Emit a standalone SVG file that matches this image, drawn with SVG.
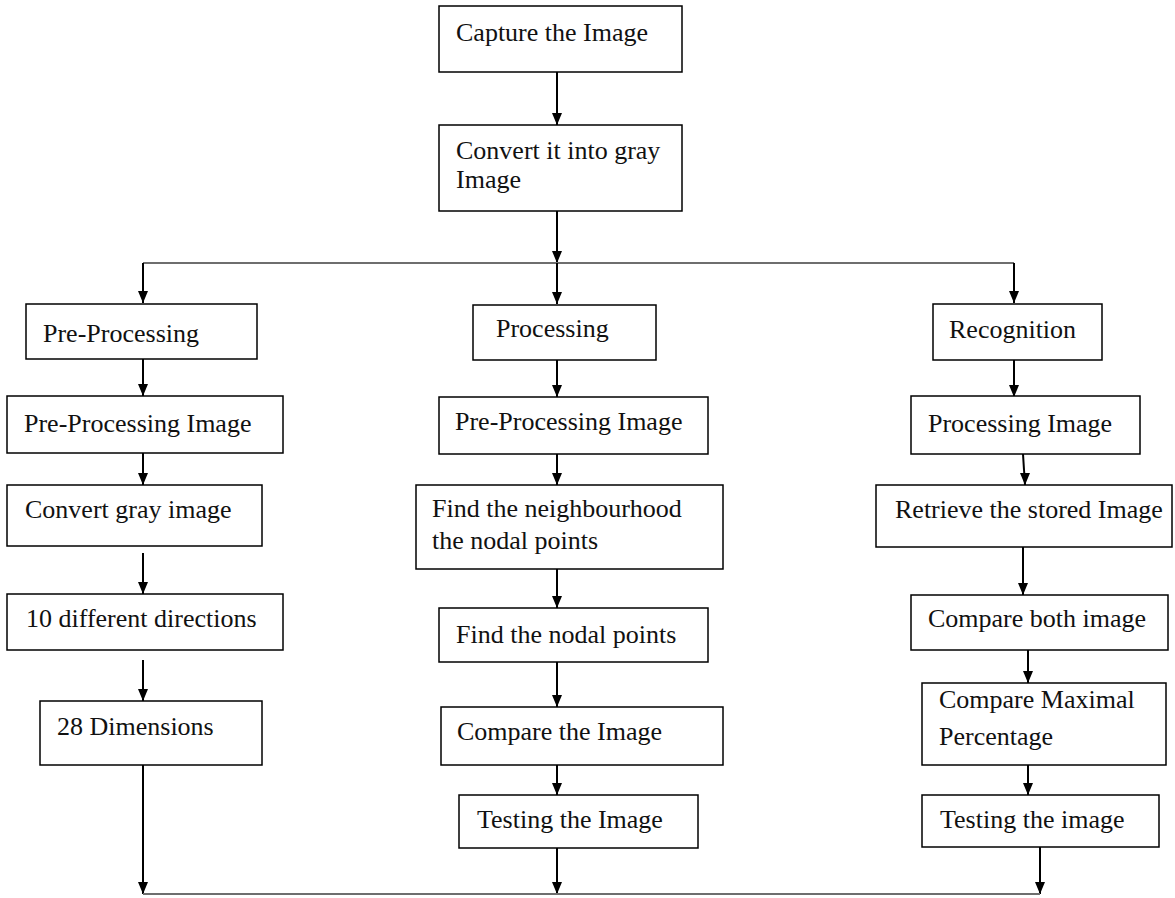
<svg xmlns="http://www.w3.org/2000/svg" width="1175" height="898" viewBox="0 0 1175 898">
  <style>
    .box { fill: #ffffff; stroke: #000000; stroke-width: 1.5; }
    .lbl { font-family: "Liberation Serif", "DejaVu Serif", "Times New Roman", serif; font-size: 26px; fill: #111111; }
    .shaft { stroke: #000000; stroke-width: 2; fill: none; }
    .head { fill: #000000; }
    .bus { stroke: #6e6e6e; stroke-width: 2; fill: none; }
  </style>
  <defs>
    <path id="tip" d="M-5,-12 L5,-12 L0,0 Z"/>
  </defs>
  <rect width="1175" height="898" fill="#ffffff"/>

  <!-- connectors: each arrowhead is the tip shape placed at the arrow's end point -->
  <g id="connectors">
    <!-- trunk -->
    <line class="shaft" x1="557" y1="72" x2="557" y2="125"/>
    <use href="#tip" class="head" x="557" y="125"/>
    <line class="shaft" x1="557" y1="211" x2="557" y2="263"/>
    <use href="#tip" class="head" x="557" y="263"/>

    <!-- distribution bus -->
    <line class="bus" x1="143" y1="263" x2="1014" y2="263"/>
    <line class="shaft" x1="143" y1="263" x2="143" y2="303"/>
    <use href="#tip" class="head" x="143" y="303"/>
    <line class="shaft" x1="557" y1="263" x2="557" y2="304"/>
    <use href="#tip" class="head" x="557" y="304"/>
    <line class="shaft" x1="1014" y1="263" x2="1014" y2="303"/>
    <use href="#tip" class="head" x="1014" y="303"/>

    <!-- left column -->
    <line class="shaft" x1="143" y1="359" x2="143" y2="396"/>
    <use href="#tip" class="head" x="143" y="396"/>
    <line class="shaft" x1="143" y1="453" x2="143" y2="485"/>
    <use href="#tip" class="head" x="143" y="485"/>
    <line class="shaft" x1="143" y1="553" x2="143" y2="594"/>
    <use href="#tip" class="head" x="143" y="594"/>
    <line class="shaft" x1="143" y1="660" x2="143" y2="701"/>
    <use href="#tip" class="head" x="143" y="701"/>
    <line class="shaft" x1="143" y1="765" x2="143" y2="894"/>
    <use href="#tip" class="head" x="143" y="894"/>

    <!-- middle column -->
    <line class="shaft" x1="557" y1="360" x2="557" y2="397"/>
    <use href="#tip" class="head" x="557" y="397"/>
    <line class="shaft" x1="557" y1="454" x2="557" y2="485"/>
    <use href="#tip" class="head" x="557" y="485"/>
    <line class="shaft" x1="557" y1="569" x2="557" y2="608"/>
    <use href="#tip" class="head" x="557" y="608"/>
    <line class="shaft" x1="557" y1="662" x2="557" y2="707" stroke-width="2.5"/>
    <use href="#tip" class="head" x="557" y="707"/>
    <line class="shaft" x1="557" y1="765" x2="557" y2="795"/>
    <use href="#tip" class="head" x="557" y="795"/>
    <line class="shaft" x1="557" y1="848" x2="557" y2="894"/>
    <use href="#tip" class="head" x="557" y="894"/>

    <!-- right column -->
    <line class="shaft" x1="1014" y1="360" x2="1014" y2="397"/>
    <use href="#tip" class="head" x="1014" y="397"/>
    <line class="shaft" x1="1023" y1="454" x2="1025" y2="485"/>
    <use href="#tip" class="head" x="1025" y="485"/>
    <line class="shaft" x1="1023" y1="547" x2="1023" y2="595" stroke-width="2.5"/>
    <use href="#tip" class="head" x="1023" y="595"/>
    <line class="shaft" x1="1028" y1="650" x2="1028" y2="683"/>
    <use href="#tip" class="head" x="1028" y="683"/>
    <line class="shaft" x1="1028" y1="765" x2="1028" y2="795"/>
    <use href="#tip" class="head" x="1028" y="795"/>
    <line class="shaft" x1="1040" y1="847" x2="1040" y2="894"/>
    <use href="#tip" class="head" x="1040" y="894"/>

    <!-- collecting bus -->
    <line class="bus" x1="143" y1="894" x2="1040" y2="894"/>
  </g>

  <!-- trunk -->
  <g id="capture"><rect class="box" x="439" y="6" width="243" height="66"/><text class="lbl" x="456" y="41">Capture the Image</text></g>
  <g id="convert-gray"><rect class="box" x="439" y="125" width="243" height="86"/><text class="lbl" x="456" y="159">Convert it into gray</text><text class="lbl" x="456" y="188">Image</text></g>

  <!-- left column -->
  <g id="pre-processing"><rect class="box" x="26" y="304" width="231" height="55"/><text class="lbl" x="43" y="342">Pre-Processing</text></g>
  <g id="pre-processing-image-left"><rect class="box" x="7" y="396" width="276" height="57"/><text class="lbl" x="24" y="432">Pre-Processing Image</text></g>
  <g id="convert-gray-image"><rect class="box" x="7" y="485" width="255" height="61"/><text class="lbl" x="25" y="518">Convert gray image</text></g>
  <g id="ten-directions"><rect class="box" x="7" y="594" width="276" height="56"/><text class="lbl" x="26" y="627">10 different directions</text></g>
  <g id="dimensions"><rect class="box" x="40" y="701" width="222" height="64"/><text class="lbl" x="57" y="735">28 Dimensions</text></g>

  <!-- middle column -->
  <g id="processing"><rect class="box" x="473" y="305" width="183" height="55"/><text class="lbl" x="496" y="337">Processing</text></g>
  <g id="pre-processing-image-mid"><rect class="box" x="439" y="397" width="269" height="57"/><text class="lbl" x="455" y="430">Pre-Processing Image</text></g>
  <g id="neighbourhood"><rect class="box" x="416" y="485" width="307" height="84"/><text class="lbl" x="432" y="517">Find the neighbourhood</text><text class="lbl" x="432" y="549">the nodal points</text></g>
  <g id="nodal-points"><rect class="box" x="439" y="608" width="269" height="54"/><text class="lbl" x="456" y="643">Find the nodal points</text></g>
  <g id="compare-image"><rect class="box" x="441" y="707" width="282" height="58"/><text class="lbl" x="457" y="740">Compare the Image</text></g>
  <g id="testing-mid"><rect class="box" x="459" y="795" width="239" height="53"/><text class="lbl" x="477" y="828">Testing the Image</text></g>

  <!-- right column -->
  <g id="recognition"><rect class="box" x="933" y="304" width="169" height="56"/><text class="lbl" x="949" y="338">Recognition</text></g>
  <g id="processing-image"><rect class="box" x="911" y="396" width="229" height="58"/><text class="lbl" x="928" y="432">Processing Image</text></g>
  <g id="retrieve"><rect class="box" x="876" y="485" width="296" height="62"/><text class="lbl" x="895" y="518">Retrieve the stored Image</text></g>
  <g id="compare-both"><rect class="box" x="911" y="595" width="257" height="55"/><text class="lbl" x="928" y="627">Compare both image</text></g>
  <g id="compare-maximal"><rect class="box" x="922" y="683" width="244" height="82"/><text class="lbl" x="939" y="708">Compare Maximal</text><text class="lbl" x="939" y="745">Percentage</text></g>
  <g id="testing-right"><rect class="box" x="922" y="795" width="237" height="52"/><text class="lbl" x="940" y="828">Testing the image</text></g>
</svg>
